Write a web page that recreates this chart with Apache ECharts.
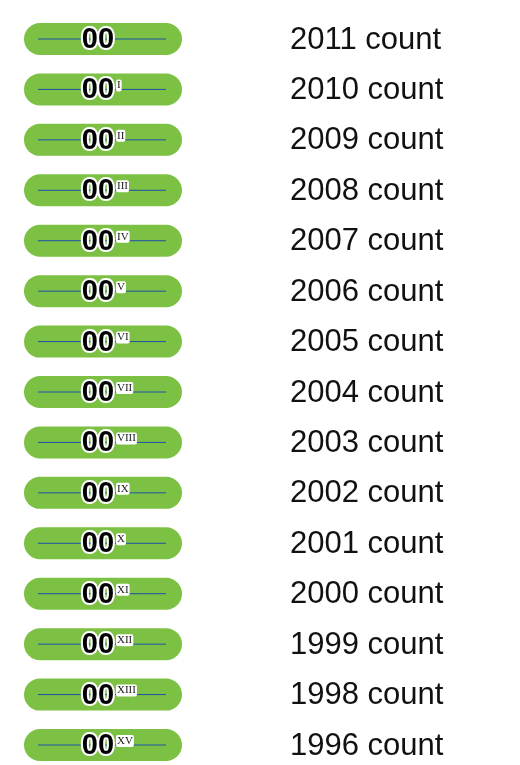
<!DOCTYPE html>
<html>
<head>
<meta charset="utf-8">
<script src="https://cdn.jsdelivr.net/npm/echarts@6/dist/echarts.min.js"></script>
<style>
* { margin: 0; padding: 0; }
#chart-container { width: 520px; height: 765px; background: #fff; }
</style>
</head>
<body>
<div id="chart-container"></div>
<script>
const years = ['2011', '2010', '2009', '2008', '2007', '2006', '2005', '2004', '2003', '2002', '2001', '2000', '1999', '1998', '1996']
const counts = ['00', '00', '00', '00', '00', '00', '00', '00', '00', '00', '00', '00', '00', '00', '00']
const numerals = ['', 'I', 'II', 'III', 'IV', 'V', 'VI', 'VII', 'VIII', 'IX', 'X', 'XI', 'XII', 'XIII', 'XV']

const chartDom = document.getElementById('chart-container')
const myChart = echarts.init(chartDom, null, { renderer: 'canvas' })

const renderRow = (params, api) => {
  const idx = api.value(1)
  const y = api.coord([0, idx])[1]
  const children = [
    {
      type: 'rect',
      shape: { x: 24, y: y - 16, width: 158, height: 32, r: 16 },
      style: { fill: '#7cc143' }
    },
    {
      type: 'line',
      shape: { x1: 38, y1: y, x2: 166, y2: y },
      style: { stroke: '#1a52a8', lineWidth: 1 }
    },
    {
      type: 'text',
      style: {
        text: counts[idx],
        x: 98,
        y: y + 1,
        align: 'center',
        verticalAlign: 'middle',
        font: 'bold 29px "Liberation Sans", Arial, sans-serif',
        fill: '#000',
        stroke: '#fff',
        lineWidth: 4
      }
    },
    {
      type: 'text',
      style: {
        text: years[idx] + ' count',
        x: 290,
        y: y + 1,
        align: 'left',
        verticalAlign: 'middle',
        font: '31px "Liberation Sans", Arial, sans-serif',
        fill: '#111'
      }
    }
  ]
  if (numerals[idx]) {
    children.push({
      type: 'text',
      style: {
        text: numerals[idx],
        x: 116,
        y: y - 4,
        align: 'left',
        verticalAlign: 'middle',
        font: '11px "Liberation Serif", "Times New Roman", serif',
        fill: '#222',
        backgroundColor: '#fff',
        padding: [1, 1, 0, 1],
        borderRadius: 2
      }
    })
  }
  return { type: 'group', children: children }
}

const option = {
  animation: false,
  grid: { left: 0, right: 0, top: 39, bottom: 20 },
  xAxis: { type: 'value', min: 0, max: 1, show: false },
  yAxis: {
    type: 'category',
    data: years,
    inverse: true,
    boundaryGap: false,
    show: false
  },
  series: [
    {
      type: 'custom',
      renderItem: renderRow,
      data: years.map((y, i) => [0, i]),
      clip: false
    }
  ]
}

myChart.setOption(option)
</script>
</body>
</html>
